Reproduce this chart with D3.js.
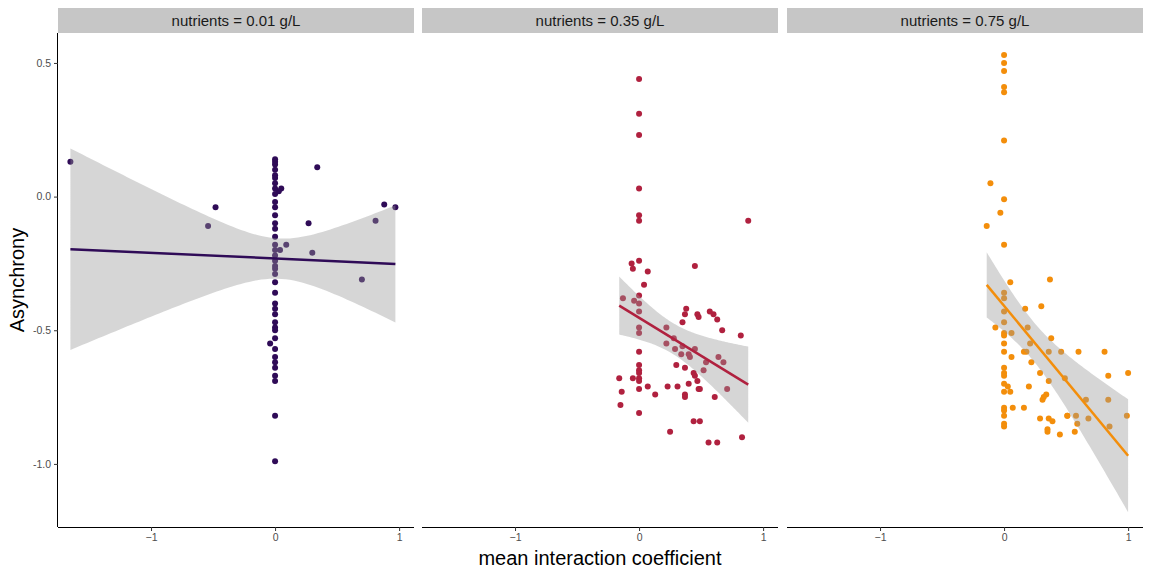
<!DOCTYPE html>
<html><head><meta charset="utf-8">
<script src="https://cdn.jsdelivr.net/npm/d3@7"></script>
<style>body{margin:0;background:#fff}svg{font-family:"Liberation Sans",Arial,sans-serif}</style>
</head><body><svg id="c" width="1152" height="576"></svg>
<script>
const panelLabels = ["nutrients = 0.01 g/L","nutrients = 0.35 g/L","nutrients = 0.75 g/L"];
const colors = ["#2f0b57","#b0213f","#f38e0b"];
const xTicks = [-1,0,1];
const yTicks = [-1.0,-0.5,0.0,0.5];
const yTickLabels = ["-1.0","-0.5","0.0","0.5"];

const p1 = [[-1.65,0.13],[-0.54,-0.11],[-0.48,-0.04],[0.34,0.11],[0.05,0.03],[0.03,0.02],[0.27,-0.10],[0.30,-0.21],[0.09,-0.18],[0.04,-0.20],[0.70,-0.31],[0.81,-0.09],[0.88,-0.03],[0.97,-0.04],[-0.04,-0.55],
[0,0.14],[0,0.13],[0,0.12],[0,0.10],[0,0.08],[0,0.07],[0,0.05],[0,0.03],[0,0.01],[0,-0.02],[0,-0.04],[0,-0.07],[0,-0.10],[0,-0.12],[0,-0.15],[0,-0.18],[0,-0.20],[0,-0.22],[0,-0.24],[0,-0.26],[0,-0.27],[0,-0.29],[0,-0.32],[0,-0.36],[0,-0.40],[0,-0.42],[0,-0.44],[0,-0.47],[0,-0.49],[0,-0.50],[0,-0.53],[0,-0.57],[0,-0.60],[0,-0.62],[0,-0.64],[0,-0.67],[0,-0.69],[0,-0.82],[0,-0.99]];
const p2 = [[0,0.44],[0,0.31],[0,0.23],[0,0.03],[0,-0.07],[0,-0.09],[0.88,-0.09],[-0.06,-0.25],[0,-0.24],[-0.05,-0.27],[0.07,-0.28],[0.45,-0.26],[0.04,-0.33],[-0.13,-0.38],[-0.04,-0.39],[0,-0.37],[0,-0.40],[0,-0.43],[0.38,-0.42],[0.37,-0.44],[0.47,-0.44],[0.48,-0.45],[0.57,-0.43],[0.60,-0.44],[0.63,-0.46],[0.35,-0.47],[0.22,-0.49],[0,-0.49],[0,-0.51],[0.67,-0.50],[0.82,-0.52],[0.28,-0.53],[0.22,-0.55],[0.29,-0.57],[0.35,-0.56],[0.45,-0.57],[0.40,-0.59],[0.34,-0.59],[0.41,-0.60],[0,-0.58],[0.64,-0.60],[0.68,-0.62],[0.54,-0.62],[0.30,-0.63],[0.37,-0.64],[0.52,-0.65],[0.44,-0.66],[0.45,-0.67],[0,-0.63],[0,-0.65],[0,-0.66],[0,-0.68],[0,-0.69],[-0.05,-0.68],[-0.16,-0.68],[0,-0.72],[0.07,-0.71],[0.23,-0.71],[0.31,-0.71],[0.40,-0.70],[0.47,-0.69],[0.48,-0.72],[0.49,-0.72],[0.71,-0.72],[-0.14,-0.73],[0.13,-0.74],[0.37,-0.74],[0.37,-0.75],[0.61,-0.75],[-0.15,-0.78],[0,-0.81],[0.44,-0.84],[0.49,-0.84],[0.25,-0.88],[0.56,-0.92],[0.63,-0.92],[0.83,-0.90]];
const p3 = [[0,0.53],[0,0.50],[0,0.47],[0,0.41],[0,0.39],[0,0.21],[-0.11,0.05],[0,-0.01],[-0.03,-0.06],[-0.14,-0.11],[0,-0.18],[0.05,-0.32],[0.37,-0.31],[0,-0.36],[0,-0.38],[0.17,-0.42],[0.30,-0.41],[0,-0.43],[0,-0.47],[-0.07,-0.49],[0.19,-0.49],[0,-0.51],[0.06,-0.51],[0,-0.52],[0.38,-0.53],[0,-0.55],[0.21,-0.55],[0,-0.58],[0.16,-0.58],[0.18,-0.58],[0.36,-0.58],[0.46,-0.58],[0.60,-0.58],[0.81,-0.58],[0.06,-0.60],[0.22,-0.62],[0,-0.64],[0,-0.66],[0,-0.67],[0.29,-0.66],[0.84,-0.67],[1.00,-0.66],[0.36,-0.69],[0.49,-0.68],[0,-0.70],[0.03,-0.71],[0.05,-0.73],[0,-0.73],[0.20,-0.71],[0.34,-0.74],[0.32,-0.75],[0.31,-0.76],[0.66,-0.76],[0.84,-0.76],[0,-0.79],[0.07,-0.79],[0.16,-0.79],[0,-0.80],[0,-0.82],[0.29,-0.83],[0.36,-0.83],[0.39,-0.84],[0.51,-0.82],[0.51,-0.82],[0.58,-0.82],[0.68,-0.83],[0.99,-0.82],[0,-0.85],[0,-0.86],[0.59,-0.85],[0.85,-0.86],[0.35,-0.87],[0.35,-0.88],[0.45,-0.89],[0.57,-0.88]];
const panels = [p1,p2,p3];

const svg = d3.select("#c");
const panelX = [58,422,787], panelW = 356, topY = 33, bottomY = 527;
const y = d3.scaleLinear().domain([-1.236,0.612]).range([bottomY,topY]);

function fit(data){
  const n=data.length, mx=d3.mean(data,d=>d[0]), my=d3.mean(data,d=>d[1]);
  const sxx=d3.sum(data,d=>(d[0]-mx)**2), sxy=d3.sum(data,d=>(d[0]-mx)*(d[1]-my));
  const b=sxy/sxx, a=my-b*mx;
  const s=Math.sqrt(d3.sum(data,d=>(d[1]-a-b*d[0])**2)/(n-2));
  return {a,b,s,n,mx,sxx};
}

panels.forEach((data,i)=>{
  const x0 = panelX[i];
  const x = d3.scaleLinear().domain([-1.75,1.12]).range([x0,x0+panelW]);
  const g = svg.append("g");
  g.append("rect").attr("x",x0).attr("y",8).attr("width",panelW).attr("height",25).attr("fill","#c6c6c6");
  g.append("text").attr("x",x0+panelW/2).attr("y",26).attr("text-anchor","middle").attr("font-size",15).attr("fill","#1a1a1a").text(panelLabels[i]);
  g.selectAll("circle").data(data).join("circle").attr("cx",d=>x(d[0])).attr("cy",d=>y(d[1])).attr("r",3).attr("fill",colors[i]);
  const f=fit(data), t=1.99;
  const [lo,hi]=d3.extent(data,d=>d[0]);
  const xs=d3.range(0,81).map(k=>lo+(hi-lo)*k/80);
  const band=xs.map(v=>{const yh=f.a+f.b*v, se=f.s*Math.sqrt(1/f.n+(v-f.mx)**2/f.sxx);return [v,yh-t*se,yh+t*se];});
  g.append("path").datum(band).attr("fill","#999999").attr("fill-opacity",0.4)
    .attr("d",d3.area().x(d=>x(d[0])).y0(d=>y(d[1])).y1(d=>y(d[2])));
  g.append("line").attr("x1",x(lo)).attr("x2",x(hi)).attr("y1",y(f.a+f.b*lo)).attr("y2",y(f.a+f.b*hi))
    .attr("stroke",colors[i]).attr("stroke-width",2.5);
  const ax = g.append("g").attr("transform",`translate(0,${bottomY})`)
    .call(d3.axisBottom(x).tickValues(xTicks).tickSize(4).tickFormat(d3.format("d")));
  ax.select(".domain").attr("stroke","#000").attr("d",`M${x0},0.5H${x0+panelW}`);
  ax.selectAll(".tick line").attr("stroke","#333");
  ax.selectAll("text").attr("font-size",10.5).attr("fill","#4d4d4d").attr("font-family","Liberation Sans, Arial");
  if(i===0){
    const ay = g.append("g").attr("transform",`translate(${x0},0)`)
      .call(d3.axisLeft(y).tickValues(yTicks).tickSize(4).tickFormat((d,k)=>yTickLabels[k]));
    ay.select(".domain").attr("stroke","#000").attr("d",`M-0.5,${topY}V${bottomY}`);
    ay.selectAll(".tick line").attr("stroke","#333");
    ay.selectAll("text").attr("font-size",10.5).attr("fill","#4d4d4d").attr("font-family","Liberation Sans, Arial");
  }
});
svg.append("text").attr("x",600).attr("y",565).attr("text-anchor","middle").attr("font-size",20).attr("fill","#000").text("mean interaction coefficient");
svg.append("text").attr("transform","translate(24,280) rotate(-90)").attr("text-anchor","middle").attr("font-size",20).attr("fill","#000").text("Asynchrony");
</script></body></html>
